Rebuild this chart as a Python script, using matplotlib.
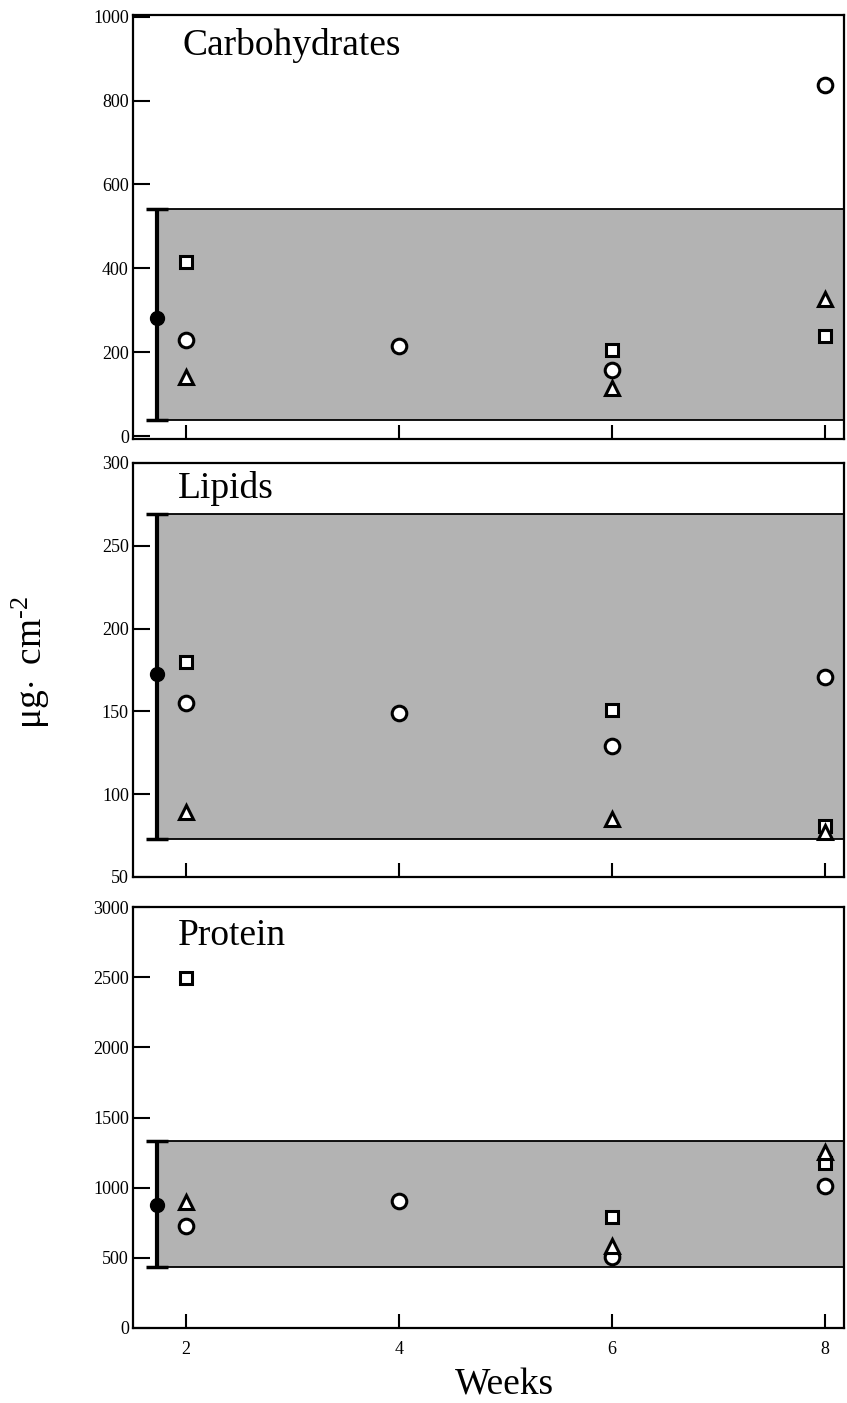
import numpy as np
import matplotlib
matplotlib.use("Agg")
import matplotlib.pyplot as plt

plt.rcParams['font.family'] = ['Liberation Serif', 'DejaVu Serif']
plt.rcParams['mathtext.fontset'] = 'custom'
plt.rcParams['mathtext.rm'] = 'Liberation Serif'
plt.rcParams['mathtext.it'] = 'Liberation Serif:italic'
plt.rcParams['mathtext.bf'] = 'Liberation Serif:bold'

nan = np.nan
weeks = [2, 4, 6, 8]

# Carbohydrates (µg cm-2)
carb_circle = [230, 214, 157, 837]
carb_square = [416, nan, 206, 238]
carb_triangle = [141, nan, 115, 326]
carb_ref = (281, 38, 542)          # mean, min, max of reference range

# Lipids
lip_circle = [155, 149, 129, 171]
lip_square = [180, nan, 151, 81]
lip_triangle = [89, nan, 85, 77]
lip_ref = (172.5, 73, 269)

# Protein
prot_circle = [726, 904, 505, 1010]
prot_square = [2495, nan, 790, 1176]
prot_triangle = [897, nan, 581, 1257]
prot_ref = (874, 436, 1336)

panel_names = ["Carbohydrates", "Lipids", "Protein"]
panel_ylims = [(-7, 1004), (50, 300), (0, 3000)]
panel_yticks = [np.arange(0, 1001, 200), np.arange(50, 301, 50), np.arange(0, 3001, 500)]

panels = [
    (carb_circle, carb_square, carb_triangle, carb_ref),
    (lip_circle, lip_square, lip_triangle, lip_ref),
    (prot_circle, prot_square, prot_triangle, prot_ref),
]

fig = plt.figure(figsize=(8.47, 14.03), dpi=100)

W, H = 847, 1403
left_px, right_px = 133, 844
boxes_px = [(15, 439), (463, 877), (907, 1328)]

xlim = (1.505, 8.178)
ref_x = 1.728

for i, (name, (circ, sq, tri, ref), ylim, yt, (top, bot)) in enumerate(
        zip(panel_names, panels, panel_ylims, panel_yticks, boxes_px)):
    ax = fig.add_axes([left_px / W, 1 - bot / H, (right_px - left_px) / W, (bot - top) / H])
    ax.set_xlim(*xlim)
    ax.set_ylim(*ylim)

    mean, lo, hi = ref
    # shaded reference range
    ax.fill_between([ref_x, xlim[1]], lo, hi, facecolor='#b3b3b3', edgecolor='none', zorder=1)
    ax.hlines([lo, hi], ref_x, xlim[1], colors='black', lw=1.3, zorder=2)
    ax.errorbar([ref_x], [mean], yerr=[[mean - lo], [hi - mean]], fmt='o', color='black',
                ms=10, elinewidth=3, capsize=8, capthick=2.5, zorder=4)

    mk = dict(mfc='white', mec='black', mew=2.2, ls='none', zorder=5)
    ax.plot(weeks, sq, marker='s', ms=9, **mk)
    ax.plot(weeks, circ, marker='o', ms=10.5, **mk)
    ax.plot(weeks, tri, marker='^', ms=10, **mk)

    ax.set_xticks(weeks)
    ax.set_yticks(yt)
    ax.tick_params(axis='y', direction='in', length=12, width=1.5, labelsize=13, pad=3)
    ax.tick_params(axis='x', direction='in', length=10, width=1.5, labelsize=13, pad=9,
                   labelbottom=(i == 2))
    for s in ax.spines.values():
        s.set_linewidth(1.6)

    title_y = [0.906, 0.915, 0.91][i]
    title_x = [0.069, 0.063, 0.063][i]
    ax.text(title_x, title_y, name, transform=ax.transAxes, fontsize=27,
            ha='left', va='baseline', zorder=6)

fig.text(0.596, 0.006, "Weeks", fontsize=27, ha='center', va='baseline')
fig.text(0.037, 0.528, r"$\mathrm{\mu g\!\cdot\ cm}^{\text{-}2}$", fontsize=27, rotation=90,
         ha='center', va='center')

fig.savefig("out.png", dpi=100)
